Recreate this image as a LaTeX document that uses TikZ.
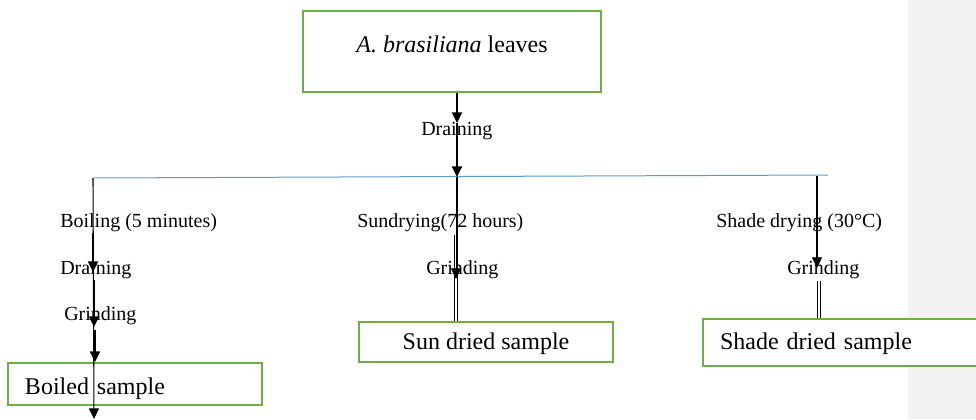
\documentclass[tikz,border=0pt]{standalone}
\usepackage{fontspec}
\setmainfont{Liberation Serif}
\usetikzlibrary{shapes,arrows.meta,positioning,calc}

\definecolor{boxgreen}{HTML}{70AD47}
\definecolor{lineblue}{HTML}{5B9BD5}
\definecolor{sidebar}{HTML}{F2F2F2}

\tikzset{
  stagebox/.style={draw=boxgreen, line width=1.5pt, fill=white, rectangle, inner sep=0pt, font=\fontsize{18}{20}\selectfont},
  steplabel/.style={anchor=west, inner sep=0pt, text height=10pt, text depth=3pt, font=\fontsize{15}{17}\selectfont},
  shaft/.style={line width=1.6pt},
  flow/.style={shaft, -{Triangle[width=7.5pt,length=8pt]}},
  rail/.style={line width=0.8pt, -{Triangle[width=7.5pt,length=8pt]}},
  twin/.style={draw=black, double=white, double distance=1.1pt, line width=0.8pt}
}

\begin{document}
\begin{tikzpicture}[x=0.75pt,y=-0.75pt]

\useasboundingbox (0,0) rectangle (976,419);
\fill[sidebar] (908,0) rectangle (976,419);

\node[stagebox, minimum width=223.5pt, minimum height=60.75pt, text height=13pt, text depth=11pt] (leaves) at (452,51.5) {\textit{A. brasiliana} leaves};
\node[steplabel] (drain) at (421,131) {Draining};

\coordinate (split) at (457,177);
\coordinate (bl) at (93,178);
\coordinate (br) at (828,175);
\draw[lineblue, line width=0.75pt] (bl) -- (br);

% boiled branch
\node[steplabel] (boil) at (60,223) {Boiling (5 minutes)};
\node[steplabel] (drainB) at (60,270) {Draining};
\node[steplabel] (grindB) at (64,316) {Grinding};
\node[stagebox, minimum width=190.5pt, minimum height=31.5pt, inner xsep=12.75pt, text width=165pt, align=left, text height=15pt, text depth=0pt] (boiled) at (135,384) {Boiled sample};

% sun dried branch
\node[steplabel] (sundry) at (357,223) {Sundrying(72 hours)};
\node[steplabel] (grindS) at (426,270) {Grinding};
\node[stagebox, minimum width=190.5pt, minimum height=30pt, text height=12.5pt, text depth=2pt] (sun) at (486,342) {Sun dried sample};

% shade dried branch
\node[steplabel] (shadeL) at (716,223) {Shade drying (30°C)};
\node[steplabel] (grindD) at (787,270) {Grinding};
\node[stagebox, minimum width=217.5pt, minimum height=35.25pt, inner xsep=12.75pt, text width=192pt, align=left, text height=12.5pt, text depth=2pt] (shade) at (848,342.5) {Shade dried sample};

\coordinate (t1) at (457,123);
\draw[flow] (leaves.south -| split) -- (t1);
\draw[flow] (t1) -- (split);

\coordinate (l0) at (93,233);
\coordinate (l1) at (93,272);
\coordinate (l2) at (94,280);
\coordinate (l3) at (94,327);
\coordinate (l4) at (95,330);
\coordinate (lend) at (94,419);
\draw[rail] (bl) -- (lend);
\draw[flow] (l0) -- (l1);
\draw[flow] (l2) -- (l3);
\draw[flow] (l4) -- (boiled.north -| l4);

\coordinate (m1) at (457,235);
\coordinate (m2) at (456,279);
\draw[shaft] (split) -- (m1);
\draw[twin] (m1 -| m2) -- (sun.north -| m2);
\draw[flow, line width=0.6pt] (m1 -| m2) -- (m2);

\coordinate (r0) at (817,176);
\coordinate (r1) at (817,268);
\coordinate (r2) at (819,281);
\draw[rail] (r0) -- (r1);
\draw[twin] (r2) -- (shade.north -| r2);

\end{tikzpicture}
\end{document}
